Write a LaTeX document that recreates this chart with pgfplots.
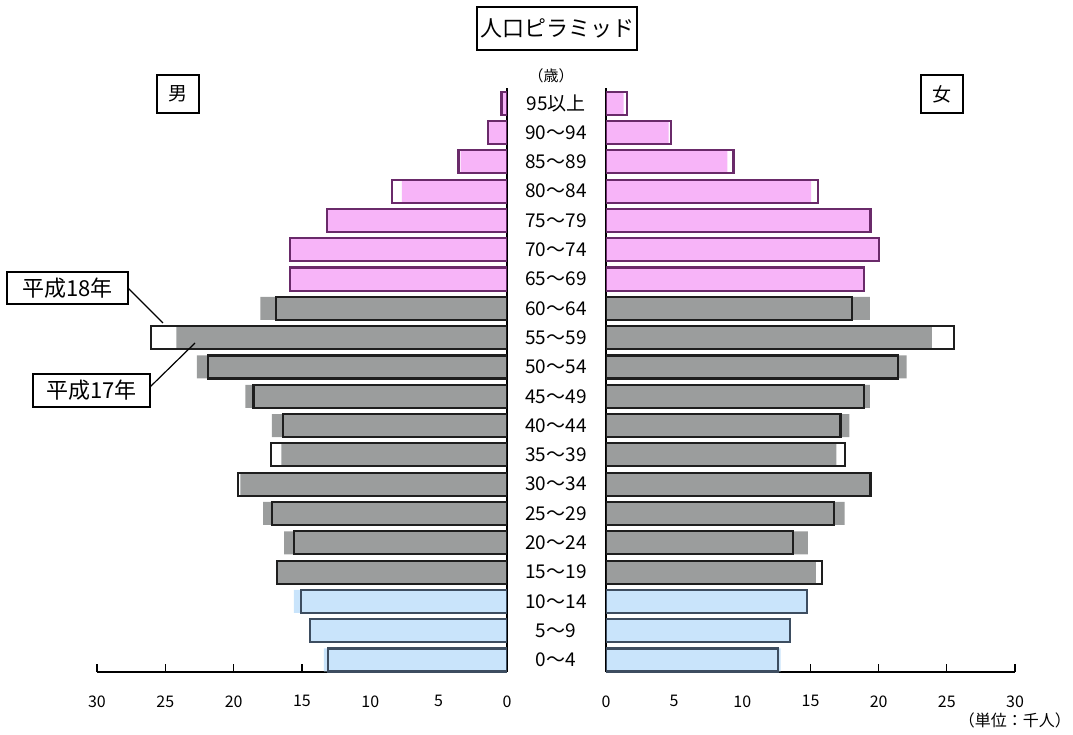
\documentclass[border=0pt]{standalone}
\usepackage{pgfplots}
\pgfplotsset{compat=1.18}
\usepackage{pgfplotstable}
\usepackage{fontspec}
\setmainfont{Noto Sans CJK JP}

\definecolor{pinkfill}{HTML}{F7B4F8}
\definecolor{pinkline}{HTML}{6A2A6A}
\definecolor{grayfill}{HTML}{9B9D9D}
\definecolor{grayline}{HTML}{1E1E1E}
\definecolor{bluefill}{HTML}{C9E4FB}
\definecolor{blueline}{HTML}{3D4D60}

% idx: 0 = 0~4 ... 19 = 95以上 ; m = male, f = female ; 17/18 = 平成17年/平成18年 (千人)
\pgfplotstableread{
idx m18   m17   f18   f17
0   13.1  13.4  12.6  12.8
1   14.4  14.4  13.5  13.5
2   15.1  15.6  14.75 14.75
3   16.8  16.8  15.85 15.4
4   15.6  16.3  13.7  14.8
5   17.2  17.85 16.75 17.5
6   19.7  19.5  19.4  19.4
7   17.3  16.5  17.5  16.9
8   16.4  17.2  17.2  17.85
9   18.55 19.15 18.9  19.35
10  21.9  22.7  21.4  22.05
11  26.05 24.2  25.55 23.9
12  16.9  18.05 18.05 19.35
13  15.9  15.9  18.9  18.9
14  15.9  15.9  20.0  20.0
15  13.2  13.2  19.4  19.4
16  8.4   7.7   15.55 15.05
17  3.55  3.4   9.35  8.9
18  1.4   1.4   4.75  4.6
19  0.4   0.3   1.55  1.3
}\pop

\pgfplotsset{
  pyr/.style={
    xbar, scale only axis,
    height=584pt,
    xmin=0, xmax=30,
    ymin=-0.41, ymax=19.52,
    xtick={0,5,...,30},
    tick align=inside,
    major tick length=8pt,
    ytick=\empty,
    axis line style={line width=1.3pt},
    tick style={line width=1.1pt, black},
    /pgf/number format/assume math mode=true,
    xticklabel style={font=\fontsize{16}{16}\selectfont, yshift=-20pt},
    every axis plot/.append style={bar width=23pt, bar shift=0pt},
    separate axis lines,
  },
  old/.style={draw=none, fill=#1},
  new/.style={draw=#1, fill=none, line width=2.1pt},
}

\begin{document}
\begin{tikzpicture}
\path (0,0) rectangle (1073pt,734pt);

% 男
\begin{axis}[pyr, at={(97pt,62pt)}, anchor=south west, width=410pt,
  x dir=reverse, axis x line*=bottom, axis y line*=right]
  \addplot[draw=none, fill=white] table[x=m18, y=idx] {\pop};
  \addplot[old=bluefill, restrict y to domain=-1:2.5] table[x=m17, y=idx] {\pop};
  \addplot[old=grayfill, restrict y to domain=2.5:12.5] table[x=m17, y=idx] {\pop};
  \addplot[old=pinkfill, restrict y to domain=12.5:20] table[x=m17, y=idx] {\pop};
  \addplot[new=blueline, restrict y to domain=-1:2.5] table[x=m18, y=idx] {\pop};
  \addplot[new=grayline, restrict y to domain=2.5:12.5] table[x=m18, y=idx] {\pop};
  \addplot[new=pinkline, restrict y to domain=12.5:20] table[x=m18, y=idx] {\pop};
\end{axis}

% 女
\begin{axis}[pyr, at={(606pt,62pt)}, anchor=south west, width=409pt,
  axis x line*=bottom, axis y line*=left,
  ytick={0,...,19},
  yticklabels={0～4,5～9,10～14,15～19,20～24,25～29,30～34,35～39,40～44,45～49,
    50～54,55～59,60～64,65～69,70～74,75～79,80～84,85～89,90～94,95以上},
  y tick style={draw=none},
  yticklabel style={font=\fontsize{19}{19}\selectfont, anchor=center, xshift=-50pt}]
  \addplot[draw=none, fill=white] table[x=f18, y=idx] {\pop};
  \addplot[old=bluefill, restrict y to domain=-1:2.5] table[x=f17, y=idx] {\pop};
  \addplot[old=grayfill, restrict y to domain=2.5:12.5] table[x=f17, y=idx] {\pop};
  \addplot[old=pinkfill, restrict y to domain=12.5:20] table[x=f17, y=idx] {\pop};
  \addplot[new=blueline, restrict y to domain=-1:2.5] table[x=f18, y=idx] {\pop};
  \addplot[new=grayline, restrict y to domain=2.5:12.5] table[x=f18, y=idx] {\pop};
  \addplot[new=pinkline, restrict y to domain=12.5:20] table[x=f18, y=idx] {\pop};
\end{axis}

% titles and labels
\node[draw, line width=1.2pt, minimum width=160pt, minimum height=43pt, inner sep=0pt,
  font=\fontsize{22}{22}\selectfont] at (557pt,705.5pt) {人口ピラミッド};
\node[draw, line width=1.2pt, minimum width=42pt, minimum height=38pt, inner sep=0pt,
  font=\fontsize{19}{19}\selectfont] at (178pt,640pt) {男};
\node[draw, line width=1.2pt, minimum width=42pt, minimum height=38pt, inner sep=0pt,
  font=\fontsize{19}{19}\selectfont] at (942pt,640pt) {女};
\node[font=\fontsize{15}{15}\selectfont] at (551pt,658pt) {（歳）};
\node[anchor=east, inner sep=0pt, font=\fontsize{16}{16}\selectfont] at (1071pt,14pt) {（単位：千人）};

\node[draw, line width=1.2pt, minimum width=121pt, minimum height=32pt, inner sep=0pt,
  fill=white, font=\fontsize{22}{22}\selectfont] at (67.5pt,446pt) {平成18年};
\node[draw, line width=1.2pt, minimum width=117pt, minimum height=33pt, inner sep=0pt,
  fill=white, font=\fontsize{22}{22}\selectfont] at (91.5pt,343.5pt) {平成17年};
\draw[line width=1.2pt] (128pt,446pt) -- (163pt,411pt);
\draw[line width=1.2pt] (150pt,347pt) -- (195pt,391pt);
\end{tikzpicture}
\end{document}
